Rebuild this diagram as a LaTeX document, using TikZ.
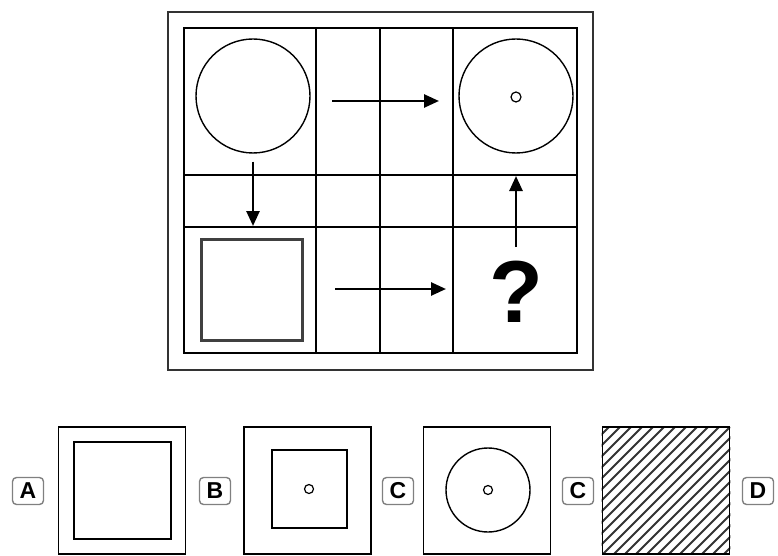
\documentclass[tikz,border=0pt]{standalone}
\usepackage{fontspec}
\setmainfont{Liberation Sans}
\usetikzlibrary{arrows.meta}

\tikzset{
  optlabel/.style={draw=gray, rounded corners=4pt, line width=1.4pt, inner sep=0pt,
    minimum width=31pt, minimum height=27pt, font=\fontsize{23}{23}\selectfont\bfseries},
  optbox/.style={draw, line width=1.8pt, inner sep=0pt, minimum width=127pt, minimum height=127pt},
  flowarrow/.style={-{Triangle[length=15pt,width=13pt]}, line width=2.6pt},
  ring/.style={circle, draw, line width=1.4pt, inner sep=0pt},
  dot/.style={circle, draw, line width=1.2pt, inner sep=0pt, minimum size=10pt},
}

\begin{document}
\begin{tikzpicture}[x=1pt,y=-1pt]
    \useasboundingbox (0,0) rectangle (778,556);
    % Frames
    \draw[line width=2.4pt, black!80] (168,12) rectangle (593,370);
    \draw[line width=1.9pt] (184,28) rectangle (577,353);
    % Grid
    \foreach \x in {316,380,453} \draw[line width=1.8pt] (\x,28) -- (\x,353);
    \foreach \y in {175,227} \draw[line width=1.8pt] (184,\y) -- (577,\y);
    % Puzzle figures
    \node[ring, minimum size=114pt] (circA) at (253,96) {};
    \node[ring, minimum size=114pt] (circB) at (516,96) {};
    \node[dot] (dotB) at (516,97) {};
    \node[draw, line width=2.6pt, black!75, minimum size=101pt, inner sep=0pt] (sqA) at (252,290) {};
    \node[anchor=base, inner sep=0pt, font=\fontsize{88}{88}\selectfont\bfseries] (quest) at (516,322) {?};
    % Arrows
    \coordinate (rtTopS) at (332,101);
    \coordinate (rtTopE) at (439,101);
    \coordinate (rtBotS) at (335,289);
    \coordinate (rtBotE) at (446,289);
    \coordinate (dnE) at (253,226);
    \coordinate (upS) at (516,247);
    \coordinate (upE) at (516,176);
    \draw[flowarrow] (rtTopS) -- (rtTopE);
    \draw[flowarrow] (rtBotS) -- (rtBotE);
    \draw[flowarrow, shorten <=8pt] (circA.south) -- (dnE);
    \draw[flowarrow] (upS) -- (upE);
    % Answer options
    \node[optbox] (boxA) at (122,490.5) {};
    \node[draw, line width=1.9pt, inner sep=0pt, minimum size=97pt] (innA) at (122.5,490.5) {};
    \node[optbox] (boxB) at (307.5,490.5) {};
    \node[draw, line width=1.9pt, inner sep=0pt, minimum width=75pt, minimum height=78pt] (innB) at (309.5,489) {};
    \node[dot, minimum size=9pt] (dotBB) at (309,489) {};
    \node[optbox] (boxC) at (487,490.5) {};
    \node[ring, minimum size=84pt] (circC) at (488,490) {};
    \node[dot, minimum size=9pt] (dotC) at (488,490) {};
    \node[optbox] (boxD) at (666,490.5) {};
    \begin{scope}
        \clip (boxD.south west) rectangle (boxD.north east);
        \foreach \k in {-12,...,12} \draw[line width=1.9pt, black!80] (603+\k*11,554) -- ++(127,-127);
    \end{scope}
    \node[optbox] at (boxD) {};
    % Labels
    \node[optlabel] (labA) at (28,491) {A};
    \node[optlabel] (labB) at (215,491) {B};
    \node[optlabel] (labC) at (398,491) {C};
    \node[optlabel] (labC2) at (578,491) {C};
    \node[optlabel] (labD) at (758,491) {D};
\end{tikzpicture}
\end{document}
